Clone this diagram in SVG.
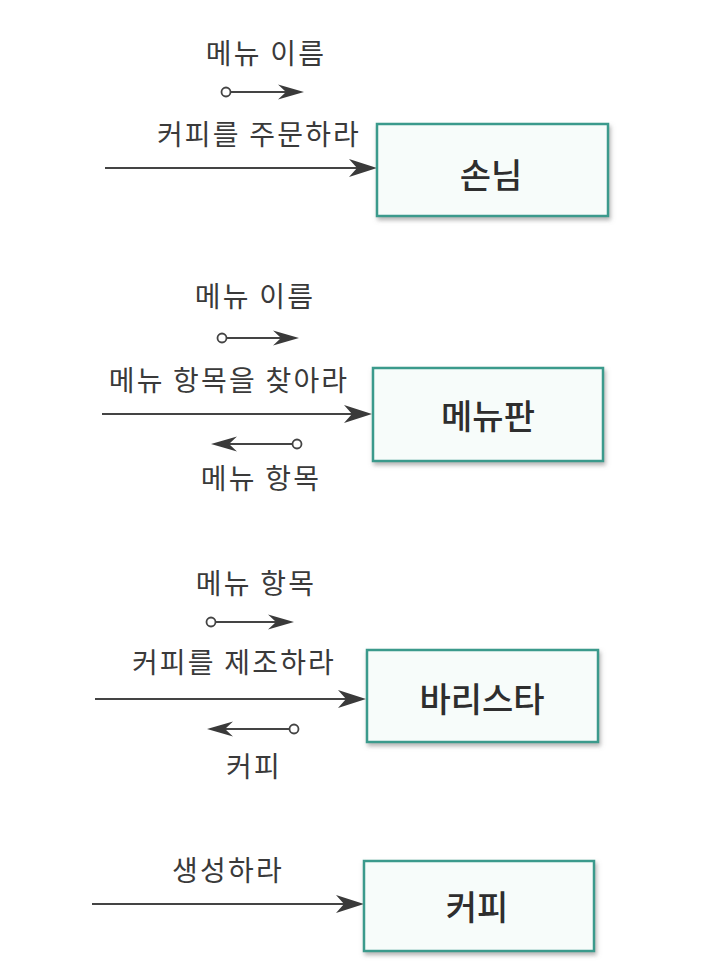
<svg xmlns="http://www.w3.org/2000/svg" width="706" height="976" viewBox="0 0 706 976">
<style>
  .lbl { font-family: "Noto Sans CJK KR", "Noto Sans", sans-serif; font-size: 28px; letter-spacing: 2.2px; fill: #3a3a3a; text-anchor: middle; }
  .box { fill: #f7fcfa; stroke: #3a9a8c; stroke-width: 2.5; filter: url(#sh); }
  .name { font-family: "Noto Sans CJK KR", "Noto Sans", sans-serif; font-size: 34px; font-weight: 500; fill: #2e2e2e; text-anchor: middle; }
  .ln { stroke: #444; stroke-width: 1.8; fill: none; }
  .dot { fill: #fff; stroke: #444; stroke-width: 1.8; }
  .head { fill: #3a3a3a; }
</style>
<defs>
  <filter id="sh" x="-10%" y="-10%" width="125%" height="130%">
    <feDropShadow dx="1.5" dy="3" stdDeviation="2" flood-color="#777" flood-opacity="0.55"/>
  </filter>
  <path id="ah" d="M0,0 L-28,-9 L-20,0 L-28,9 Z"/>
  <path id="ahs" d="M0,0 L-26,-7.5 L-18,0 L-26,7.5 Z"/>
</defs>
<rect width="706" height="976" fill="#ffffff"/>

<g id="connectors">
  <!-- 손님 -->
  <line class="ln" x1="105" y1="168" x2="362" y2="168"/>
  <use href="#ah" class="head" x="377" y="168"/>
  <line class="ln" x1="230" y1="92" x2="290" y2="92"/>
  <circle class="dot" cx="226" cy="92" r="4.5"/>
  <use href="#ahs" class="head" x="304" y="92"/>

  <!-- 메뉴판 -->
  <line class="ln" x1="102" y1="414" x2="358" y2="414"/>
  <use href="#ah" class="head" x="372" y="414"/>
  <line class="ln" x1="226" y1="338" x2="286" y2="338"/>
  <circle class="dot" cx="222" cy="338" r="4.5"/>
  <use href="#ahs" class="head" x="299" y="338"/>
  <line class="ln" x1="225" y1="444" x2="293" y2="444"/>
  <circle class="dot" cx="297" cy="444" r="4.5"/>
  <use href="#ahs" class="head" transform="translate(211,444) rotate(180)"/>

  <!-- 바리스타 -->
  <line class="ln" x1="95" y1="699" x2="352" y2="699"/>
  <use href="#ah" class="head" x="366" y="699"/>
  <line class="ln" x1="215" y1="622" x2="280" y2="622"/>
  <circle class="dot" cx="211" cy="622" r="4.5"/>
  <use href="#ahs" class="head" x="294" y="622"/>
  <line class="ln" x1="221" y1="729" x2="290" y2="729"/>
  <circle class="dot" cx="294" cy="729" r="4.5"/>
  <use href="#ahs" class="head" transform="translate(207,729) rotate(180)"/>

  <!-- 커피 -->
  <line class="ln" x1="92" y1="904" x2="350" y2="904"/>
  <use href="#ah" class="head" x="364" y="904"/>
</g>

<g id="labels">
  <text class="lbl" x="266" y="64">메뉴 이름</text>
  <text class="lbl" x="259" y="145">커피를 주문하라</text>
  <text class="lbl" x="255" y="307">메뉴 이름</text>
  <text class="lbl" x="229" y="391">메뉴 항목을 찾아라</text>
  <text class="lbl" x="261" y="489">메뉴 항목</text>
  <text class="lbl" x="256" y="594">메뉴 항목</text>
  <text class="lbl" x="234" y="673">커피를 제조하라</text>
  <text class="lbl" x="254" y="777">커피</text>
  <text class="lbl" x="228" y="881">생성하라</text>
</g>

<g id="node-customer">
  <rect class="box" x="377" y="124" width="231" height="92"/>
  <text class="name" x="491" y="188">손님</text>
</g>
<g id="node-menu">
  <rect class="box" x="373" y="368" width="230" height="93"/>
  <text class="name" x="488" y="429">메뉴판</text>
</g>
<g id="node-barista">
  <rect class="box" x="367" y="650" width="231" height="92"/>
  <text class="name" x="482" y="712">바리스타</text>
</g>
<g id="node-coffee">
  <rect class="box" x="364" y="861" width="230" height="90"/>
  <text class="name" x="477" y="920">커피</text>
</g>
</svg>
